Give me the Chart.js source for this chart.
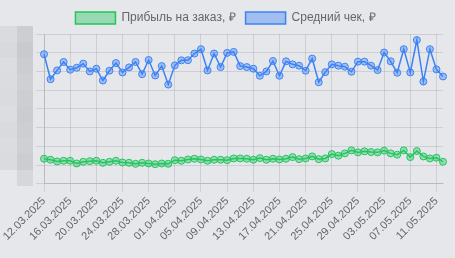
<!doctype html>
<html lang="ru">
  <head>
    <meta charset="utf-8">
    <title>Прибыль и средний чек</title>
    <script src="https://cdn.jsdelivr.net/npm/chart.js@4.4.1/dist/chart.umd.min.js"></script>
    <style>
      html, body { margin: 0; padding: 0; background: #e5e7eb; }
      #wrap { width: 455px; height: 258px; position: relative; }
    </style>
  </head>
  <body>
<div id="wrap">
  <canvas id="salesChart"></canvas>
</div>

<script>
  // dates (one point per day)
  var days = [
    "12.03.2025","13.03.2025","14.03.2025","15.03.2025","16.03.2025","17.03.2025","18.03.2025","19.03.2025",
    "20.03.2025","21.03.2025","22.03.2025","23.03.2025","24.03.2025","25.03.2025","26.03.2025","27.03.2025",
    "28.03.2025","29.03.2025","30.03.2025","31.03.2025","01.04.2025","02.04.2025","03.04.2025","04.04.2025",
    "05.04.2025","06.04.2025","07.04.2025","08.04.2025","09.04.2025","10.04.2025","11.04.2025","12.04.2025",
    "13.04.2025","14.04.2025","15.04.2025","16.04.2025","17.04.2025","18.04.2025","19.04.2025","20.04.2025",
    "21.04.2025","22.04.2025","23.04.2025","24.04.2025","25.04.2025","26.04.2025","27.04.2025","28.04.2025",
    "29.04.2025","30.04.2025","01.05.2025","02.05.2025","03.05.2025","04.05.2025","05.05.2025","06.05.2025",
    "07.05.2025","08.05.2025","09.05.2025","10.05.2025","11.05.2025","12.05.2025"
  ];

  var profitPerOrder = [
    668, 641, 595, 614, 614, 541, 586, 603, 614, 559, 586, 614, 568, 559, 532, 559,
    541, 522, 541, 532, 630, 614, 649, 668, 649, 614, 641, 641, 630, 676, 676, 668,
    641, 684, 641, 668, 649, 668, 711, 657, 675, 730, 657, 676, 792, 749, 811, 892,
    838, 865, 846, 838, 884, 811, 776, 892, 711, 873, 730, 676, 695, 586
  ];

  var avgCheck = [
    3460, 2792, 3027, 3252, 3046, 3100, 3208, 3000, 3073, 2757, 3019, 3224, 2973, 3108, 3252, 2927,
    3305, 2892, 3143, 2649, 3162, 3297, 3300, 3478, 3595, 3027, 3478, 3116, 3495, 3522, 3143, 3116,
    3073, 2884, 3000, 3279, 2884, 3270, 3189, 3154, 3019, 3343, 2711, 2981, 3189, 3154, 3127, 2992,
    3262, 3262, 3154, 3035, 3505, 3270, 2965, 3595, 2973, 3838, 2730, 3595, 3054, 2865
  ];

  var yMin = 0, yMax = 4000, yStep = 500;

  var green = "rgb(34, 197, 94)";
  var greenFill = "rgba(34, 197, 94, 0.4)";
  var blue = "rgb(59, 130, 246)";
  var blueFill = "rgba(59, 130, 246, 0.4)";

  // the y labels are blurred out in the original, draw the pixel blocks
  var blurShades = [
    ["#dadbde", "#cdced1"], ["#d8d9dc", "#c9cacd"], ["#dcdde0", "#cccdd0"], ["#dbdcdf", "#cfd0d3"],
    ["#dadbde", "#cdced1"], ["#dcdde0", "#cbccd0"], ["#d9dadd", "#cdced1"], ["#dbdcdf", "#cfd0d3"],
    ["#dadbde", "#cccdd0"], ["#e5e7eb", "#d6d7da"]
  ];
  var blurPlugin = {
    id: "blurLabels",
    afterDraw: function(chart) {
      var c = chart.ctx;
      var top = chart.chartArea.top - 8;
      for (var r = 0; r < blurShades.length; r++) {
        c.fillStyle = blurShades[r][0];
        c.fillRect(0, top + r * 16, 17, 16);
        c.fillStyle = blurShades[r][1];
        c.fillRect(17, top + r * 16, 16, 16);
      }
    }
  };

  Chart.defaults.font.family = "'Liberation Sans', Arial, sans-serif";
  Chart.defaults.font.size = 12;
  Chart.defaults.color = "#666";

  var ctx = document.getElementById("salesChart").getContext("2d");
  var salesChart = new Chart(ctx, {
    type: "line",
    data: {
      labels: days,
      datasets: [
        {
          label: "Прибыль на заказ, ₽",
          data: profitPerOrder,
          borderColor: green,
          backgroundColor: greenFill,
          borderWidth: 1.5,
          pointRadius: 3.5,
          pointBorderWidth: 1,
          tension: 0
        },
        {
          label: "Средний чек, ₽",
          data: avgCheck,
          borderColor: blue,
          backgroundColor: blueFill,
          borderWidth: 1.5,
          pointRadius: 3.5,
          pointBorderWidth: 1,
          tension: 0
        }
      ]
    },
    options: {
      responsive: true,
      maintainAspectRatio: false,
      animation: false,
      layout: { padding: { top: 2, right: 4, left: 0, bottom: 12 } },
      plugins: {
        legend: {
          labels: { boxWidth: 40, boxHeight: 12, padding: 10, color: "#666" }
        },
        tooltip: { enabled: false }
      },
      scales: {
        x: {
          ticks: { minRotation: 45, maxRotation: 45, autoSkip: true, font: { size: 11 } },
          grid: { color: "rgba(0,0,0,0.1)" },
          afterFit: function(scale) { scale.paddingRight = 12; }
        },
        y: {
          min: yMin,
          max: yMax,
          ticks: { stepSize: yStep, display: false },
          grid: { color: "rgba(0,0,0,0.1)" },
          afterFit: function(scale) { scale.width = 44; }
        }
      }
    },
    plugins: [blurPlugin]
  });
</script>
  </body>
</html>
